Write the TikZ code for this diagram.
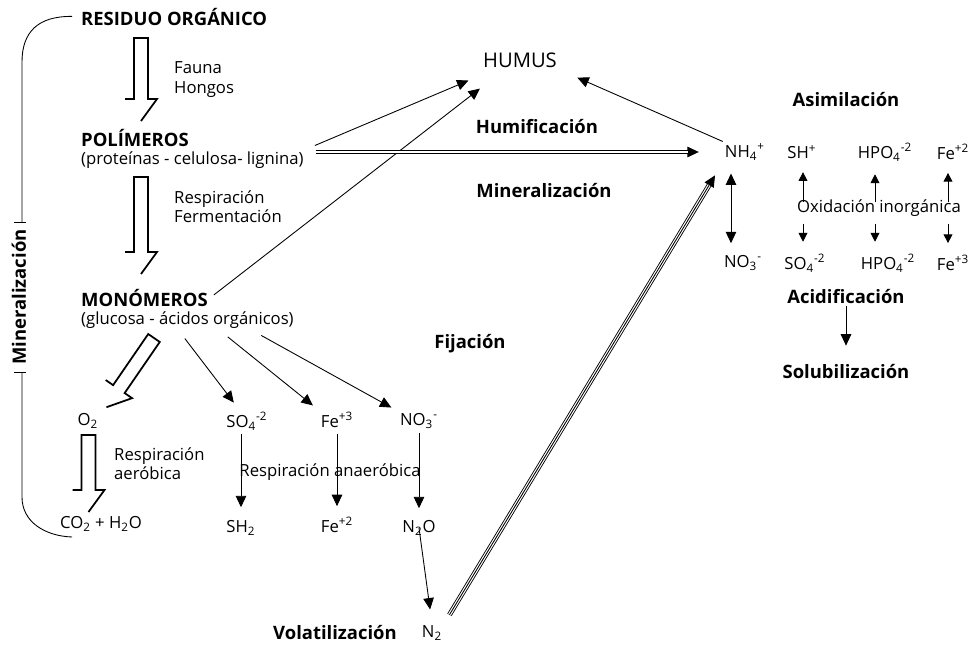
\documentclass[tikz,border=0pt]{standalone}
\usepackage{fontspec}
\setmainfont{Open Sans}
\usepackage{tikz}
\usetikzlibrary{arrows.meta}
\usetikzlibrary{calc}

\begin{document}
\begin{tikzpicture}[x=0.02cm, y=-0.02cm, line width=0.5pt,
	texto/.style={font=\fontsize{9.5}{11}\selectfont, inner sep=1pt},
	titulo/.style={font=\fontsize{10.5}{12}\selectfont\bfseries, inner sep=1pt},
	flecha/.style={-{Triangle[length=6.5pt,width=6pt]}},
	flechita/.style={-{Triangle[length=5pt,width=5pt]}},
	doble/.style={{Triangle[length=6.5pt,width=6pt]}-{Triangle[length=6.5pt,width=6pt]}},
	hueco/.style={line width=1pt},
	pics/hueca/.style={code={\draw[hueco] (-16,#1) -- (-7,#1) -- (-7,0) -- (7,0) -- (7,#1) -- (16,#1) -- (0,#1+22);}}]
	\useasboundingbox (0,0) rectangle (978,646);
	% columna izquierda
	\node[titulo, anchor=west] (residuo) at (79,16.5) {RESIDUO ORGÁNICO};
	\node[texto, anchor=west, align=left] (fauna) at (172,79.5) {Fauna\\Hongos};
	\node[titulo, anchor=west] (polimeros) at (79,138) {POLÍMEROS};
	\node[texto, anchor=west] (polsub) at (79,160) {(proteínas - celulosa- lignina)};
	\node[texto, anchor=west, align=left] (respfer) at (172,207) {Respiración\\Fermentación};
	\node[titulo, anchor=west] (monomeros) at (79,298) {MONÓMEROS};
	\node[texto, anchor=west] (monosub) at (79,320) {(glucosa - ácidos orgánicos)};
	\node[titulo, rotate=90] (mineral) at (19,297) {Mineralización};
	\node[texto] (o2) at (88,421) {O\textsubscript{2}};
	\node[texto, anchor=west, align=left] (aerobica) at (112,464) {Respiración\\aeróbica};
	\node[texto] (co2) at (101,524) {CO\textsubscript{2} + H\textsubscript{2}O};
	% respiracion anaerobica
	\node[texto] (so4) at (247,421) {SO\textsubscript{4}\textsuperscript{-2}};
	\node[texto] (fe3) at (337,420) {Fe\textsuperscript{+3}};
	\node[texto] (no3) at (419,421) {NO\textsubscript{3}\textsuperscript{-}};
	\node[texto] (anaerobica) at (330,472) {Respiración anaeróbica};
	\node[texto] (sh2) at (241,528) {SH\textsubscript{2}};
	\node[texto] (fe2) at (337,525) {Fe\textsuperscript{+2}};
	\node[texto] (n2o) at (419,528) {N\textsubscript{2}O};
	\node[texto] (n2) at (432,633) {N\textsubscript{2}};
	\node[titulo] (volatil) at (335,633) {Volatilización};
	% centro
	\node[texto, font=\fontsize{11.5}{13}\selectfont] (humus) at (520,60) {HUMUS};
	\node[titulo] (humific) at (537,127) {Humificación};
	\node[titulo] (mineraliz) at (544,191) {Mineralización};
	\node[titulo] (fijacion) at (470,344) {Fijación};
	% derecha
	\node[titulo] (asimil) at (846,100) {Asimilación};
	\node[texto] (nh4) at (745,152) {NH\textsubscript{4}\textsuperscript{+}};
	\node[texto] (sh) at (802,152) {SH\textsuperscript{+}};
	\node[texto] (hpo4a) at (885,152) {HPO\textsubscript{4}\textsuperscript{-2}};
	\node[texto] (fe2b) at (953,152) {Fe\textsuperscript{+2}};
	\node[texto] (oxidacion) at (879,208) {Oxidación inorgánica};
	\node[texto] (no3b) at (743,263) {NO\textsubscript{3}\textsuperscript{-}};
	\node[texto] (so4b) at (805,263) {SO\textsubscript{4}\textsuperscript{-2}};
	\node[texto] (hpo4b) at (888,263) {HPO\textsubscript{4}\textsuperscript{-2}};
	\node[texto] (fe3b) at (953,263) {Fe\textsuperscript{+3}};
	\node[titulo] (acidif) at (846,297) {Acidificación};
	\node[titulo] (solubil) at (846,372) {Solubilización};
	\coordinate (colN) at (731,0);
	\coordinate (colS) at (803,0);
	\coordinate (colH) at (875,0);
	\coordinate (colF) at (948,0);
	% flechas huecas
	\pic at (141,38) {hueca=61};
	\pic at (141,177) {hueca=75};
	\pic[rotate=-34.5] at (154,338) {hueca=62};
	\pic at (88.5,435) {hueca=55};
	% llave
	\draw[shorten <=0.14cm] (residuo.west) .. controls (38,16) and (22,32) .. (22,62) -- (22,222);
	\draw (14,222) -- (26,222);
	\draw (14,372) -- (26,372);
	\draw (22,372) -- (22,497) .. controls (22,522) and (45,536) .. (72,537);
	% hacia humus
	\draw[flecha, shorten <=0.2cm, shorten >=0.56cm] (polsub.north east) -- ($(humus.south west)!0.17!(humus.south east)$);
	\draw[flecha, shorten <=0.1cm, shorten >=0.62cm] (monomeros.east) -- ($(humus.south west)!0.3!(humus.south east)$);
	\draw[flecha, shorten >=0.4cm] (nh4.north west) -- (humus.south east);
	% humificacion / mineralizacion
	\draw[flecha, shorten <=0.2cm, shorten >=0.48cm] (polsub.east |- nh4.west) -- (nh4.west);
	\draw[double, double distance=1.2pt, shorten <=0.2cm, shorten >=0.7cm] (polsub.east |- nh4.west) -- (nh4.west);
	% monomeros
	\draw[flecha, shorten <=0.2cm, shorten >=0.18cm] ($(monosub.south west)!0.46!(monosub.south east)$) -- ($(so4.north west)!0.33!(so4.north east)$);
	\draw[flecha, shorten <=0.2cm, shorten >=0.15cm] ($(monosub.south west)!0.65!(monosub.south east)$) -- (fe3.north west);
	\draw[flecha, shorten <=0.2cm, shorten >=0.15cm] ($(monosub.south west)!0.8!(monosub.south east)$) -- (no3.north west);
	\draw[flecha, shorten <=0.04cm, shorten >=0.22cm] (so4.south -| sh2.north) -- (sh2.north);
	\draw[flecha, shorten <=0.08cm, shorten >=0.18cm] (fe3.south) -- (fe2.north);
	\draw[flecha, shorten <=0.04cm, shorten >=0.2cm] (no3.south) -- (n2o.north);
	\draw[flecha, shorten >=0.28cm] (n2o.center) -- (n2.north);
	% fijacion
	\draw[flecha, shorten <=0.2cm, shorten >=0.3cm] (n2.north east) -- (nh4.south west);
	\draw[double, double distance=1.8pt, shorten <=0.2cm, shorten >=0.53cm] (n2.north east) -- (nh4.south west);
	\draw[shorten <=0.2cm, shorten >=0.53cm] (n2.north east) -- (nh4.south west);
	% asimilacion y oxidacion
	\draw[doble, shorten <=0.22cm, shorten >=0.2cm] (nh4.south -| colN) -- (no3b.north -| colN);
	\draw[flechita, shorten <=-0.1cm, shorten >=0.22cm] (oxidacion.north -| colS) -- (sh.south -| colS);
	\draw[flechita, shorten <=-0.1cm, shorten >=0.22cm] (oxidacion.north -| colH) -- (hpo4a.south -| colH);
	\draw[flechita, shorten <=-0.1cm, shorten >=0.22cm] (oxidacion.north -| colF) -- (fe2b.south -| colF);
	\draw[flechita, shorten <=0.1cm, shorten >=0.2cm] (oxidacion.south -| colS) -- (so4b.north -| colS);
	\draw[flechita, shorten <=0.1cm, shorten >=0.2cm] (oxidacion.south -| colH) -- (hpo4b.north -| colH);
	\draw[flechita, shorten <=0.1cm, shorten >=0.2cm] (oxidacion.south -| colF) -- (fe3b.north -| colF);
	\draw[flecha, shorten >=0.34cm] (acidif.south) -- (solubil.north);
\end{tikzpicture}
\end{document}
